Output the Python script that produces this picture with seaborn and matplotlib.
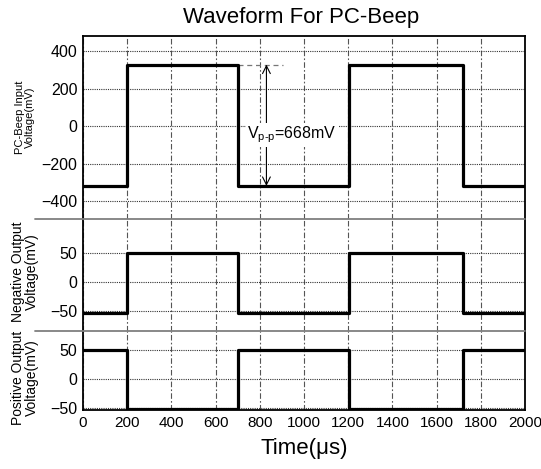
import numpy as np
import pandas as pd
import matplotlib
matplotlib.use('Agg')
import matplotlib.pyplot as plt
import seaborn as sns
from matplotlib.lines import Line2D

# Data ==============================================================================
time_us = [0, 200, 700, 1205, 1720, 2000]
beep_mv = [-320, 330, -320, 330, -320, -320]
neg_mv = [-53, 50, -53, 50, -53, -53]
pos_mv = [50, -52, 50, -52, 50, 50]

x_ticks = [0, 200, 400, 600, 800, 1000, 1200, 1400, 1600, 1800, 2000]
beep_ticks = [-400, -200, 0, 200, 400]
out_ticks = [-50, 0, 50]

vpp_label = 'V$_{\\mathregular{p\\text{-}p}}$=668mV'

# Setup ==============================================================================
sns.set_theme(style='white')
plt.rcParams['font.family'] = ['Liberation Sans', 'DejaVu Sans']
plt.rcParams['mathtext.fontset'] = 'custom'
plt.rcParams['mathtext.rm'] = 'Liberation Sans'
plt.rcParams['text.color'] = 'black'
plt.rcParams['axes.labelcolor'] = 'black'

fig = plt.figure(figsize=(5.41, 4.69), dpi=100)
left, width = 83 / 541, 442 / 541
ax1 = fig.add_axes([left, 1 - 219 / 469, width, 183 / 469])
ax2 = fig.add_axes([left, 1 - 331 / 469, width, 112 / 469], sharex=ax1)
ax3 = fig.add_axes([left, 1 - 410 / 469, width, 79 / 469], sharex=ax1)

panels = [(ax1, beep_mv, beep_ticks, (-497, 483)),
          (ax2, neg_mv, out_ticks, (-84.5, 108.6)),
          (ax3, pos_mv, out_ticks, (-53.4, 82.8))]

for ax, vals, yt, ylim in panels:
    ax.set_axisbelow(True)
    ax.grid(axis='x', color='#555555', lw=0.8, linestyle=(0, (5, 2, 1.5, 2)))
    ax.grid(axis='y', color='#333333', lw=0.8, linestyle=(0, (1, 1)))
    sns.lineplot(x=time_us, y=vals, ax=ax, drawstyle='steps-post',
                 color='black', lw=2.3, estimator=None, zorder=3)
    ax.set_xlim(0, 2000)
    ax.set_ylim(*ylim)
    ax.set_xticks(x_ticks)
    ax.set_yticks(yt)
    ax.tick_params(length=0, labelsize=11.5, pad=4, colors='black')
    ax.tick_params(axis='x', labelsize=11)
    ax.set_xlabel('')
    ax.set_ylabel('')
    for s in ax.spines.values():
        s.set_color('black')
        s.set_linewidth(1.3)

for ax in (ax1, ax2):
    ax.tick_params(labelbottom=False)
ax1.spines['bottom'].set_visible(False)
ax2.spines['top'].set_visible(False)
ax2.spines['bottom'].set_visible(False)
ax3.spines['top'].set_visible(False)

# panel dividers running into the label area
for yb in (1 - 219 / 469, 1 - 331 / 469):
    fig.add_artist(Line2D([35 / 541, 525 / 541], [yb, yb], color='#7f7f7f',
                          lw=1.3, transform=fig.transFigure))

# Vpp annotation
ax1.plot([700, 905], [330, 330], color='#777777', lw=0.9, linestyle=(0, (4, 3)), zorder=2)
ax1.annotate('', xy=(830, 330), xytext=(830, -320),
             arrowprops=dict(arrowstyle='<->', color='black', lw=0.8,
                             mutation_scale=14, shrinkA=0, shrinkB=0), zorder=4)
ax1.text(744, -48, vpp_label, fontsize=11.5, ha='left', va='center', zorder=5,
         bbox=dict(facecolor='white', edgecolor='none', pad=1))

# Labels
fig.text(301 / 541, 1 - 18 / 469, 'Waveform For PC-Beep', fontsize=16,
         ha='center', va='center')
ax3.set_xlabel('Time(\u03bcs)', fontsize=16, labelpad=6)
fig.text(25 / 541, 1 - 117 / 469, 'PC-Beep Input\nVoltage(mV)', rotation=90,
         fontsize=8, ha='center', va='center', multialignment='center', linespacing=1.1)
fig.text(25 / 541, 1 - 272 / 469, 'Negative Output\nVoltage(mV)', rotation=90,
         fontsize=10, ha='center', va='center', multialignment='center', linespacing=1.0)
fig.text(25 / 541, 1 - 378 / 469, 'Positive Output\nVoltage(mV)', rotation=90,
         fontsize=10, ha='center', va='center', multialignment='center', linespacing=1.0)

fig.savefig('out.png', dpi=100)
